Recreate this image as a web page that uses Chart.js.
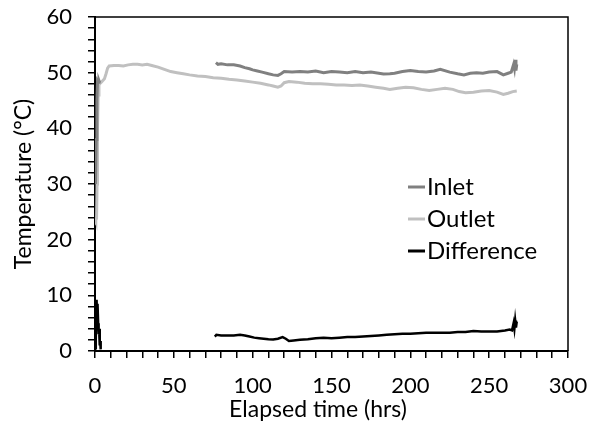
<!DOCTYPE html>
<html>
<head>
<meta charset="utf-8">
<script src="https://cdn.jsdelivr.net/npm/chart.js@4"></script>
<style>
  html, body { margin: 0; padding: 0; background: #fff; }
  #wrap { width: 589px; height: 426px; }
</style>
</head>
<body>
<div id="wrap"><canvas id="tempChart" width="589" height="426"></canvas></div>
<script>
// Elapsed time (hrs) and temperature (°C); null breaks the line
const inletTime = [0.3, 0.8, 1.2, 1.6, 2.0, 2.5, 3.0, 40,
    76.7, 78, 80, 84, 88, 92, 95, 98, 100, 103, 106, 110, 113, 116, 118, 120,
    125, 130, 135, 140, 145, 150, 155, 160, 165, 170, 175, 180, 183, 187, 190, 195,
    200, 205, 210, 215, 219, 225, 230, 234, 238, 242, 246, 250, 255, 259, 262, 264,
    265.5, 266, 266.5, 267, 267.5];
const inletTemp = [30, 38, 45, 48.5, 48.3, 48.6, 48.2, null,
    51.8, 51.5, 51.6, 51.4, 51.4, 51.2, 50.9, 50.7, 50.5, 50.3, 50.1, 49.8, 49.6, 49.5, 49.8, 50.2,
    50.1, 50.2, 50.1, 50.3, 50.0, 50.2, 50.1, 50.0, 50.2, 50.0, 50.1, 49.9, 49.75, 49.8, 49.9, 50.2,
    50.4, 50.2, 50.1, 50.3, 50.6, 50.1, 49.8, 49.6, 49.9, 50.0, 49.9, 50.1, 50.2, 49.6, 49.9, 50.1,
    51.5, 50.8, 52.3, 50.4, 51.5];

const outletTime = [0, 0.5, 1.0, 1.3, 1.6, 2.0, 2.5, 3, 4, 5, 6, 7, 8, 9, 12, 15, 18, 21, 24, 27,
    30, 33, 36, 40, 44, 48, 52, 56, 60, 65, 70, 75, 80, 85, 90, 95, 100, 105, 110, 113,
    116, 118, 120, 123, 128, 133, 138, 143, 148, 153, 158, 163, 168, 173, 178, 183, 187, 192, 197, 202,
    207, 212, 217, 222, 227, 231, 235, 240, 245, 250, 255, 259, 262, 265, 267.5];
const outletTemp = [24, 23.5, 23.8, 30, 40, 46, 47.8, 48.0, 48.3, 48.6, 48.9, 49.8, 50.8, 51.2, 51.3, 51.3, 51.2, 51.4, 51.5, 51.5,
    51.4, 51.5, 51.3, 51.0, 50.6, 50.2, 50.0, 49.8, 49.6, 49.4, 49.3, 49.1, 49.0, 48.8, 48.7, 48.5, 48.3, 48.1, 47.8, 47.6,
    47.4, 47.6, 48.2, 48.4, 48.3, 48.1, 48.0, 48.0, 47.9, 47.8, 47.8, 47.7, 47.8, 47.6, 47.4, 47.2, 47.0, 47.2, 47.4, 47.3,
    47.0, 46.8, 47.0, 47.2, 47.0, 46.6, 46.4, 46.5, 46.7, 46.8, 46.5, 46.1, 46.3, 46.6, 46.7];

const diffTime = [0, 0.5, 0.8, 1.0, 1.3, 1.6, 2.0, 2.3, 2.6, 3.0, 3.3, 3.6, 40,
    76, 77, 80, 84, 88, 92, 95, 98, 101, 104, 107, 110, 113, 116, 119, 121, 123, 126, 130,
    135, 140, 145, 150, 155, 160, 165, 170, 175, 180, 185, 190, 195, 200, 205, 210, 215,
    220, 225, 230, 235, 240, 245, 250, 255, 260, 263, 264.5, 265.5, 266, 266.5, 267, 267.5];
const diffTemp = [0.5, 2, 7, 9.2, 6, 8.5, 5, 3, 4, 1, 1.8, 0.3, null,
    2.6, 2.9, 2.8, 2.8, 2.8, 2.9, 2.8, 2.6, 2.4, 2.3, 2.2, 2.1, 2.05, 2.2, 2.5, 2.2, 1.8, 1.9, 2.0,
    2.1, 2.3, 2.4, 2.3, 2.4, 2.5, 2.5, 2.6, 2.7, 2.8, 2.9, 3.0, 3.1, 3.1, 3.2, 3.3, 3.3,
    3.3, 3.3, 3.4, 3.4, 3.6, 3.5, 3.5, 3.5, 3.7, 3.85, 3.7, 5.0, 4.0, 5.5, 4.2, 5.3];

const seriesNames = ['Inlet', 'Outlet', 'Difference'];
const seriesColors = ['#808080', '#c0c0c0', '#000000'];
const xTickLabels = [0, 50, 100, 150, 200, 250, 300];
const yTickLabels = [0, 10, 20, 30, 40, 50, 60];

const FONT = 'Lato, "Open Sans", sans-serif';

const toPoints = (xs, ys) => xs.map((x, i) => ({ x, y: ys[i] }));

// frame, axis titles and the in-plot legend
const decorations = {
    id: 'decorations',
    afterDraw(chart) {
        const { ctx, chartArea: a } = chart;
        ctx.save();
        ctx.strokeStyle = '#000';
        ctx.lineWidth = 1.5;
        ctx.beginPath();
        ctx.moveTo(a.left, a.top);
        ctx.lineTo(a.right, a.top);
        ctx.lineTo(a.right, a.bottom);
        ctx.stroke();

        ctx.fillStyle = '#000';
        ctx.font = '23px ' + FONT;
        ctx.textAlign = 'center';
        ctx.textBaseline = 'middle';
        ctx.fillText('Elapsed time (hrs)', 318, 410);

        ctx.save();
        ctx.translate(24, 184);
        ctx.rotate(-Math.PI / 2);
        ctx.fillText('Temperature (°C)', 0, 0);
        ctx.restore();

        ctx.font = '24px ' + FONT;
        ctx.textAlign = 'left';
        chart.data.datasets.forEach((ds, i) => {
            const y = 187 + i * 32;
            ctx.strokeStyle = ds.borderColor;
            ctx.lineWidth = 3;
            ctx.beginPath();
            ctx.moveTo(408, y);
            ctx.lineTo(425, y);
            ctx.stroke();
            ctx.fillStyle = '#000';
            ctx.fillText(ds.label, 427, y);
        });
        ctx.restore();
    },
};

const ctx = document.getElementById('tempChart');
new Chart(ctx, {
    type: 'line',
    data: {
        datasets: [
            { label: seriesNames[0], data: toPoints(inletTime, inletTemp), borderColor: seriesColors[0], borderWidth: 3 },
            { label: seriesNames[1], data: toPoints(outletTime, outletTemp), borderColor: seriesColors[1], borderWidth: 3 },
            { label: seriesNames[2], data: toPoints(diffTime, diffTemp), borderColor: seriesColors[2], borderWidth: 2.5 },
        ].map(d => ({ ...d, pointRadius: 0, tension: 0, spanGaps: false, fill: false })),
    },
    options: {
        responsive: false,
        animation: false,
        events: [],
        layout: { padding: { top: 17, right: 21, left: 0, bottom: 0 } },
        plugins: { legend: { display: false }, tooltip: { enabled: false } },
        scales: {
            x: {
                type: 'linear',
                min: 0,
                max: 300,
                ticks: {
                    stepSize: 10,
                    color: '#000',
                    font: { family: FONT, size: 22 },
                    padding: 15,
                    maxRotation: 0,
                    autoSkip: false,
                    callback: v => (xTickLabels.includes(v) ? String(v) : ''),
                },
                grid: { drawOnChartArea: false, drawTicks: true, tickLength: 7, color: '#000', lineWidth: 1.5 },
                border: { color: '#000', width: 2 },
                afterFit: s => { s.height = 75; s.paddingLeft = 0; s.paddingRight = 0; },
            },
            y: {
                min: 0,
                max: 60,
                ticks: {
                    stepSize: 2,
                    color: '#000',
                    font: { family: FONT, size: 22 },
                    padding: 16,
                    autoSkip: false,
                    callback: v => (yTickLabels.includes(v) ? String(v) : ''),
                },
                grid: { drawOnChartArea: false, drawTicks: true, tickLength: 7, color: '#000', lineWidth: 1.5 },
                border: { color: '#000', width: 2 },
                afterFit: s => { s.width = 95; s.paddingTop = 0; s.paddingBottom = 0; },
            },
        },
    },
    plugins: [decorations],
});
</script>
</body>
</html>
